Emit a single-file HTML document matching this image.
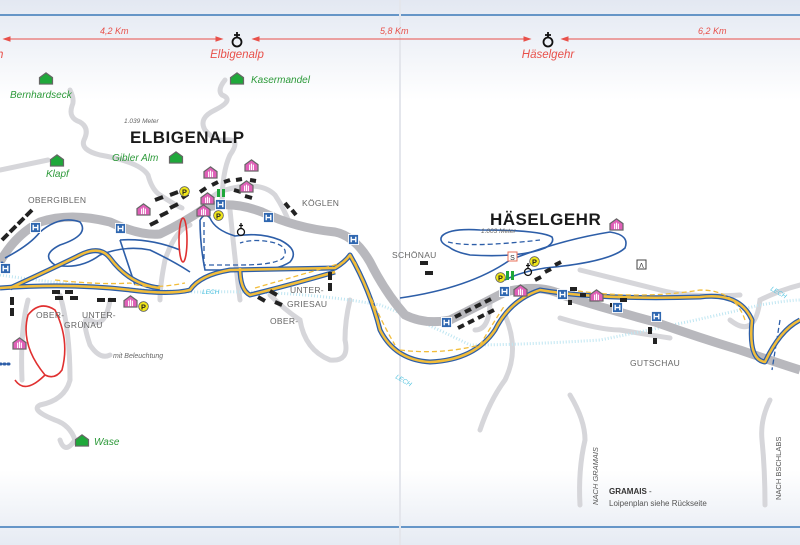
<!DOCTYPE html>
<html><head><meta charset="utf-8"><style>
html,body{margin:0;padding:0;background:#fff}
svg{display:block}
text{font-family:"Liberation Sans",sans-serif}
</style></head><body>
<svg width="800" height="545" viewBox="0 0 800 545" xmlns="http://www.w3.org/2000/svg">
<defs>
<linearGradient id="tg" x1="0" y1="0" x2="0" y2="1"><stop offset="0" stop-color="#e3e8f2"/><stop offset="1" stop-color="#ffffff"/></linearGradient>
<linearGradient id="bg" x1="0" y1="0" x2="0" y2="1"><stop offset="0" stop-color="#ffffff"/><stop offset="1" stop-color="#e6ebf3"/></linearGradient>
<symbol id="hs" viewBox="0 0 16 14"><path d="M1 6 L8 1 L15 6 V13 H1 Z" fill="#e060b8" stroke="#666" stroke-width="1.3"/><path d="M6 6v6M8 5v7M10 6v6" stroke="#fff" stroke-width="1.2"/></symbol>
<symbol id="gh" viewBox="0 0 16 14"><path d="M1 6 L8 1 L15 6 V13 H1 Z" fill="#1fa83a" stroke="#666" stroke-width="1.3"/></symbol>
<symbol id="H" viewBox="0 0 12 12"><rect x="0.5" y="0.5" width="11" height="11" fill="#2f67b0" stroke="#fff"/><path d="M3.5 3v6M8.5 3v6M3.5 6h5" stroke="#fff" stroke-width="1.5"/></symbol>
<symbol id="P" viewBox="0 0 12 12"><circle cx="6" cy="6" r="5.3" fill="#f0e61a" stroke="#555" stroke-width="0.8"/><text x="6" y="9" font-size="8" text-anchor="middle" font-weight="bold" fill="#222">P</text></symbol>
</defs>
<rect width="800" height="545" fill="#fff"/>
<rect width="800" height="100" fill="url(#tg)"/>
<rect y="470" width="800" height="75" fill="url(#bg)"/>
<line x1="0" y1="15" x2="800" y2="15" stroke="#3a78b8" stroke-width="1.5"/>
<line x1="0" y1="527" x2="800" y2="527" stroke="#3a78b8" stroke-width="1.5"/>
<line x1="400" y1="0" x2="400" y2="545" stroke="#e4e6ec" stroke-width="2"/>
<!-- distance lines -->
<g stroke="#e8504a" stroke-width="1" fill="#e8504a">
<line x1="4" y1="39" x2="222" y2="39"/><line x1="253" y1="39" x2="530" y2="39"/><line x1="562" y1="39" x2="800" y2="39"/>
<path d="M4 39l6-2v4z M222 39l-6-2v4z M253 39l6-2v4z M530 39l-6-2v4z M562 39l6-2v4z"/>
</g>
<g font-style="italic" fill="#e8504a" font-size="9"><text x="100" y="34">4,2 Km</text><text x="380" y="34">5,8 Km</text><text x="698" y="34">6,2 Km</text></g>
<g font-style="italic" fill="#e8504a" font-size="11.5"><text x="237" y="58" text-anchor="middle">Elbigenalp</text><text x="548" y="58" text-anchor="middle">Häselgehr</text><text x="-3" y="58">h</text></g>
<g fill="none" stroke="#111" stroke-width="1.8"><circle cx="237" cy="42" r="4.5"/><path d="M237 32v6M234 35h6"/><circle cx="548" cy="42" r="4.5"/><path d="M548 32v6M545 35h6"/></g>
<!-- side roads grey light -->
<g fill="none" stroke="#d6d6da" stroke-width="5" stroke-linecap="round">
<path d="M70 90 Q75 100 72 106 Q68 118 80 122 Q90 128 84 140 Q80 150 100 155 Q140 162 148 175 Q152 190 160 195 Q175 205 182 208"/>
<path d="M0 170 L48 160"/>
<path d="M225 80 Q217 90 222 95 Q235 100 215 110 Q198 118 205 130 Q215 142 225 140 Q242 138 230 155 Q222 172 222 205"/>
<path d="M200 210 Q210 195 225 190 Q260 180 275 195 Q285 210 290 225"/>
<path d="M190 225 Q175 230 165 260 Q160 285 160 300"/>
<path d="M230 210 Q235 260 240 300"/>
<path d="M110 300 Q105 330 90 320 Q80 315 90 345 Q100 360 110 355"/>
<path d="M28 300 Q20 330 22 380"/>
<path d="M60 295 Q70 330 70 380 Q65 400 40 405 Q30 410 55 420 Q70 425 75 440 Q65 455 60 440"/>
<path d="M270 295 Q285 310 300 320 Q305 350 330 360 Q350 362 345 340 Q345 320 350 300"/>
<path d="M475 330 Q490 330 490 300"/>
<path d="M505 315 Q520 350 505 380 Q490 400 480 430"/>
<path d="M570 395 Q585 420 585 440 Q578 470 580 505"/>
<path d="M730 320 Q755 340 760 300 Q780 290 800 285"/>
<path d="M580 270 Q620 280 660 290 Q690 298 740 295"/>
<path d="M770 400 Q760 420 762 440 Q765 470 765 505"/>
<path d="M560 318 Q600 330 620 330 Q650 335 670 338"/>
</g>
<!-- Lech light cyan dotted -->
<g fill="none" stroke="#bfe6f2" stroke-width="3" stroke-dasharray="1 2">
<path d="M0 275 Q100 290 200 292 Q300 290 380 305 Q420 320 470 345 Q520 345 600 340 Q700 320 760 305 Q790 300 800 300"/>
</g>
<!-- main road -->
<path d="M0 262 Q15 235 40 222 Q70 212 110 222 Q140 236 160 234 Q185 222 205 208 Q230 200 262 212 Q295 228 335 232 Q355 236 370 262 Q385 292 405 315 Q425 325 450 320 Q480 305 505 292 Q540 283 565 296 Q610 310 655 322 Q700 338 740 350 Q775 362 800 370" fill="none" stroke="#b8b8bd" stroke-width="9" stroke-linejoin="round"/>
<!-- blue trails -->
<g fill="none" stroke="#2d5ea8" stroke-width="1.6">
<path d="M5 258 Q30 245 40 232 Q60 215 80 222 Q90 235 60 245 Q40 255 55 265 Q80 270 100 255 Q125 245 150 250 Q175 262 190 272"/>
<path d="M120 240 Q150 238 180 250"/>
<path d="M120 240 L135 285"/>
<path d="M200 220 Q200 245 205 270 L240 270 Q275 272 290 262 Q300 250 280 240 Q260 232 235 236 Q215 230 210 218 Q205 212 200 220"/>
<path d="M449 247 Q438 242 442 236 Q450 228 480 230 Q540 230 552 237 Q555 243 545 248 Q520 258 470 255 Q455 252 449 247"/>
<path d="M400 298 Q470 288 510 260 Q560 240 610 232 Q630 235 625 248 Q610 262 545 268 Q520 272 505 280"/>
</g>
<g fill="none" stroke="#2d5ea8" stroke-width="1.3" stroke-dasharray="5 3">
<path d="M204 222 L204 265 L240 265 Q275 265 283 258 Q290 248 275 243 Q255 238 240 243"/>
<path d="M448 242 Q470 248 540 240"/>
<path d="M780 320 L772 370"/>
</g>
<!-- yellow double trails -->
<g fill="none" stroke-linejoin="round">
<g stroke="#2d5ea8" stroke-width="5">
<path id="y1" d="M0 288 Q70 283 130 290 Q170 295 190 290 Q200 275 230 270 L335 268 Q345 262 350 255 Q370 290 380 330 Q395 360 430 362 Q475 360 495 330 Q510 300 540 290 Q600 300 700 297 Q740 292 752 320 Q748 360 765 362 Q780 330 800 320"/>
<path id="y2" d="M10 288 Q60 265 80 255 Q100 245 110 258 Q130 285 160 288"/>
<path id="y3" d="M240 268 Q240 290 250 295 Q290 285 335 272"/>
</g>
<g stroke="#f2bd3a" stroke-width="2.5"><use href="#y1"/><use href="#y2"/><use href="#y3"/></g>
</g>
<g fill="none" stroke="#f2bd3a" stroke-width="1.3" stroke-dasharray="5 3">
<path d="M55 280 Q100 285 130 283 Q150 290 185 283"/>
<path d="M255 288 Q300 275 345 262"/>
<path d="M355 262 Q380 320 395 345"/>
<path d="M400 350 Q440 355 480 345 Q495 320 505 305"/>
<path d="M570 290 Q640 300 700 290 Q735 290 745 320"/>
</g>
<!-- red loops -->
<g fill="none" stroke="#e03030" stroke-width="1.6">
<ellipse cx="183" cy="240" rx="4" ry="22"/>
<path d="M45 375 Q20 345 28 315 Q40 300 55 310 Q70 340 62 370 Q55 380 45 375 Q25 395 15 380"/>
</g>
<!-- black building dashes -->
<g stroke="#222" stroke-width="4">
<path d="M2 240l6-6M10 232l6-6M18 224l6-6M26 216l6-6"/>
<path d="M155 200l8-3M170 195l8-3M150 225l8-4M160 216l8-4M170 208l8-4M182 198l6-4M200 192l6-4M212 185l6-3M224 182l6-2M236 180l6-1M250 180l6 1M234 190l7 2M245 196l7 2"/>
<path d="M285 203l4 5M292 210l4 5M52 292h8M65 292h8M55 298h8M70 298h8M97 300h8M108 300h8M10 307h0M12 297v8M12 308v8"/>
<path d="M330 272v8M330 283v8M258 297l7 4M270 291l7 4M275 302l7 3"/>
<path d="M420 263h8M425 273h8M455 317l6-3M465 312l6-3M475 307l6-3M485 302l6-3M458 328l6-3M468 323l6-3M478 318l6-3M488 313l6-3"/>
<path d="M545 272l6-3M555 265l6-3M535 280l6-3M570 289h7M580 295h6M570 300v5M610 305h7M620 300h7M575 305h0M615 306h7M650 327v7M655 338v6"/>
</g>
<!-- dotted connectors -->
<g fill="none" stroke="#2d5ea8" stroke-width="3" stroke-dasharray="1 3" stroke-linecap="round">
<path d="M2 263v10M0 364h12"/>
</g>
<!-- icons -->
<use href="#H" x="30" y="222" width="11" height="11"/>
<use href="#H" x="0" y="263" width="11" height="11"/>
<use href="#H" x="115" y="223" width="11" height="11"/>
<use href="#H" x="215" y="199" width="11" height="11"/>
<use href="#H" x="263" y="212" width="11" height="11"/>
<use href="#H" x="348" y="234" width="11" height="11"/>
<use href="#H" x="441" y="317" width="11" height="11"/>
<use href="#H" x="499" y="286" width="11" height="11"/>
<use href="#H" x="557" y="289" width="11" height="11"/>
<use href="#H" x="612" y="302" width="11" height="11"/>
<use href="#H" x="651" y="311" width="11" height="11"/>
<use href="#hs" x="203" y="166" width="15" height="13"/>
<use href="#hs" x="244" y="159" width="15" height="13"/>
<use href="#hs" x="239" y="180" width="15" height="13"/>
<use href="#hs" x="200" y="192" width="15" height="13"/>
<use href="#hs" x="196" y="204" width="15" height="13"/>
<use href="#hs" x="136" y="203" width="15" height="13"/>
<use href="#hs" x="123" y="295" width="15" height="13"/>
<use href="#hs" x="12" y="337" width="15" height="13"/>
<use href="#hs" x="513" y="284" width="15" height="13"/>
<use href="#hs" x="589" y="289" width="15" height="13"/>
<use href="#hs" x="609" y="218" width="15" height="13"/>
<use href="#gh" x="38" y="72" width="16" height="13"/>
<use href="#gh" x="229" y="72" width="16" height="13"/>
<use href="#gh" x="168" y="151" width="16" height="13"/>
<use href="#gh" x="49" y="154" width="16" height="13"/>
<use href="#gh" x="74" y="434" width="16" height="13"/>
<use href="#P" x="179" y="186" width="11" height="11"/>
<use href="#P" x="213" y="210" width="11" height="11"/>
<use href="#P" x="138" y="301" width="11" height="11"/>
<use href="#P" x="495" y="272" width="11" height="11"/>
<use href="#P" x="529" y="256" width="11" height="11"/>
<rect x="217" y="189" width="3" height="8" fill="#1fa83a"/><rect x="222" y="189" width="3" height="8" fill="#1fa83a"/>
<rect x="506" y="271" width="3" height="9" fill="#1fa83a"/><rect x="511" y="271" width="3" height="9" fill="#1fa83a"/>
<rect x="508" y="252" width="9" height="9" fill="#fff" stroke="#e8705a"/><text x="512.5" y="260" font-size="7" text-anchor="middle" fill="#333">S</text>
<rect x="637" y="260" width="9" height="9" fill="#fff" stroke="#444"/><text x="641.5" y="268" font-size="7" text-anchor="middle" fill="#333">Λ</text>
<g fill="none" stroke="#111" stroke-width="1.3"><circle cx="241" cy="232" r="3.5"/><path d="M241 223v5M239 225.5h4"/><circle cx="528" cy="272" r="3.5"/><path d="M528 263v5M526 265.5h4"/></g>
<!-- labels -->
<g fill="#2d9a3a" font-style="italic" font-size="10">
<text x="10" y="98">Bernhardseck</text><text x="251" y="83">Kasermandel</text><text x="112" y="161">Gibler Alm</text><text x="46" y="177">Klapf</text><text x="94" y="445">Wase</text>
</g>
<text x="130" y="143" font-size="17" font-weight="bold" fill="#1a1a1a" letter-spacing="0.5">ELBIGENALP</text>
<text x="490" y="225" font-size="17" font-weight="bold" fill="#1a1a1a" letter-spacing="0.5">HÄSELGEHR</text>
<g font-style="italic" fill="#666" font-size="6.5"><text x="124" y="123">1.039 Meter</text><text x="481" y="233">1.003 Meter</text><text x="113" y="358" font-size="7">mit Beleuchtung</text></g>
<g fill="#666" font-size="8.5" letter-spacing="0.3">
<text x="28" y="203">OBERGIBLEN</text><text x="302" y="206">KÖGLEN</text><text x="392" y="258">SCHÖNAU</text>
<text x="36" y="318">OBER-</text><text x="82" y="318">UNTER-</text><text x="64" y="328">GRÜNAU</text>
<text x="290" y="293">UNTER-</text><text x="287" y="307">GRIESAU</text><text x="270" y="324">OBER-</text>
<text x="630" y="366">GUTSCHAU</text>
</g>
<g fill="#55c4e0" font-style="italic" font-size="6.5"><text x="202" y="294">LECH</text><text x="395" y="378" transform="rotate(30 395 378)">LECH</text><text x="770" y="290" transform="rotate(30 770 290)">LECH</text></g>
<text transform="translate(598 505) rotate(-90)" font-size="7.5" font-style="italic" fill="#555">NACH GRAMAIS</text>
<text transform="translate(781 500) rotate(-90)" font-size="7.5" fill="#555">NACH BSCHLABS</text>
<text x="609" y="494" font-size="8" font-weight="bold" fill="#333">GRAMAIS <tspan font-weight="normal">-</tspan></text>
<text x="609" y="506" font-size="8" fill="#555">Loipenplan siehe Rückseite</text>
</svg>
</body></html>
